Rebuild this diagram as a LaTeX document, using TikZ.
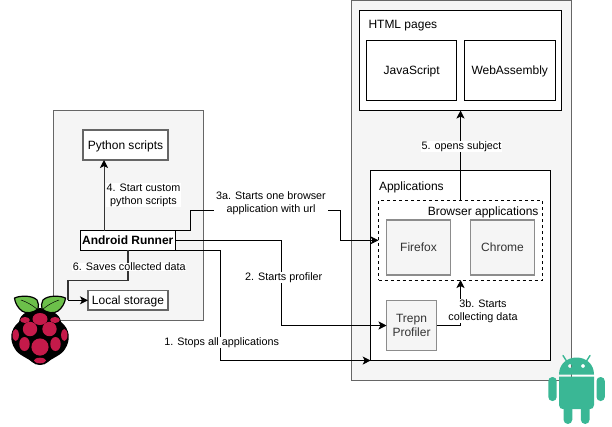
\documentclass[tikz,border=0pt]{standalone}
\usepackage{fontspec}
\setmainfont{Liberation Sans}
\usetikzlibrary{arrows.meta,calc}
\definecolor{panelfill}{HTML}{F5F5F5}
\definecolor{panelline}{HTML}{666666}
\definecolor{softline}{HTML}{8C8C8C}
\definecolor{softtext}{HTML}{333333}
\definecolor{droid}{HTML}{3AB795}
\definecolor{berry}{HTML}{C51A4A}
\definecolor{leafgreen}{HTML}{6CC04A}
\tikzset{
  x=1pt,y=-1pt,
  every node/.style={inner sep=0pt,outer sep=0pt,align=center,font=\fontsize{12}{14}\selectfont},
  oneline/.style={text height=8.6pt,text depth=0pt},
  panel/.style={draw=panelline,fill=panelfill,line width=1pt},
  whitebox/.style={draw=black,fill=white,line width=1pt},
  greybox/.style={draw=softline,fill=panelfill,line width=1.1pt,text=softtext},
  softbox/.style={draw=panelline,fill=white,line width=1.6pt},
  lab/.style={fill=white,font=\fontsize{10.8}{13}\selectfont,inner xsep=0.5pt,inner ysep=0.5pt},
  conn/.style={draw=black,line width=0.9pt,-{Stealth[length=8pt,width=8pt,inset=2pt]}},
  plain/.style={draw=black,line width=0.9pt},
  softconn/.style={draw=softtext,line width=1.1pt},
  box/.style n args={4}{minimum width=#3-#1,minimum height=#4-#2,at={({(#1+#3)/2},{(#2+#4)/2})}},
}
\begin{document}
\begin{tikzpicture}
\useasboundingbox (0,0) rectangle (612,426);
% panels
\node[panel,box={53}{110.5}{203}{320}] (leftpanel) {};
\node[panel,box={351}{0.5}{571}{380}] (rightpanel) {};
% left nodes
\node[softbox,oneline,box={83}{130}{168}{160}] (python) {Python scripts};
\node[softbox,oneline,line width=1.2pt,box={88}{290.5}{168}{310}] (storage) {Local storage};
\node[whitebox,box={80.5}{230.5}{175}{250.3},font=\fontsize{12}{14}\selectfont\bfseries] (runner) {Android Runner};
% right nodes
\node[whitebox,box={359.5}{10.5}{561.5}{110.5}] (html) {};
\node[anchor=west] (htmllabel) at (368.5,26) {HTML pages};
\node[whitebox,oneline,box={366.7}{40.5}{456.7}{100.5}] (js) {JavaScript};
\node[whitebox,oneline,box={464.5}{40.5}{555}{100.5}] (wasm) {WebAssembly};
\node[whitebox,box={370.7}{170.5}{550.7}{360.5}] (apps) {};
\node[anchor=west] (appslabel) at (379,187) {Applications};
\node[draw=black,dashed,line width=0.9pt,fill=white,box={378.5}{200.7}{542.5}{280}] (browsers) {};
\node[anchor=east] (browserlabel) at (538.5,212.5) {Browser applications};
\node[greybox,box={386.5}{220}{450.5}{275}] (firefox) {Firefox};
\node[greybox,box={470.5}{220}{534.5}{275}] (chrome) {Chrome};
\node[greybox,box={386.5}{300.5}{436.5}{350.5}] (trepn) {Trepn\\Profiler};
% bend coordinates
\coordinate (a3) at (190.7,210.7);
\coordinate (b3) at (340.7,240.3);
\coordinate (c2) at (281.3,325.5);
\coordinate (c1) at (220.7,360.5);
\coordinate (c6) at (128,280.5);
\coordinate (d6) at (68,300.3);
\coordinate (e3) at (460.5,325.5);
% connectors
\draw[conn,draw=softtext,{Stealth[length=8pt,width=8pt,inset=2pt,color=black]}-] (python.south -| 104,0) -- (runner.north -| 104,0);
\draw[softconn] (runner.south -| c6) -- (c6) -- (c6 -| d6) -- (d6);
\draw[conn] (d6) -- (storage.west |- d6);
\draw[plain] (runner.north east) -- (runner.north east -| a3) -- (a3) -- (a3 -| b3);
\draw[conn] (a3 -| b3) -- (b3) -- (browsers.west |- b3);
\draw[conn] (runner.east |- 0,240.3) -- (c2 |- 0,240.3) -- (c2) -- (trepn.west |- c2);
\draw[conn] (runner.south east) -- (runner.south east -| c1) -- (c1) -- (apps.west |- c1);
\draw[conn] (trepn.east |- e3) -- (e3) -- (e3 |- browsers.south);
\draw[conn] (e3 |- browsers.north) -- (e3 |- html.south);
% labels
\node[lab] (l4) at (143.5,195) {4. Start custom\\python scripts};
\node[lab] (l6) at (129.3,267) {6. Saves collected data};
\node[lab,inner xsep=2pt] (l3a) at (271,203) {3a. Starts one browser\\application with url};
\node[lab] (l2) at (283.7,277.5) {2. Starts profiler};
\node[lab] (l1) at (221.7,342.5) {1. Stops all applications};
\node[lab] (l5) at (461.5,146.5) {5. opens subject};
\node[lab] (l3b) at (483,311) {3b. Starts\\collecting data};
% raspberry pi
\begin{scope}
  \fill[black] (40,308) .. controls (50,310) and (60,313) .. (61,322) .. controls (70,329) and (71,340) .. (65,349)
    .. controls (62,355) and (52,358) .. (48,362) .. controls (44,366) and (36,366) .. (32,362)
    .. controls (28,358) and (18,355) .. (15,349) .. controls (9,340) and (10,329) .. (19,322)
    .. controls (20,313) and (30,310) .. (40,308) -- cycle;
  \filldraw[fill=leafgreen,draw=black,line width=1.2pt,line join=round] (14.5,298) .. controls (20,295.5) and (32,295) .. (37,300) .. controls (38.5,303) and (39,306) .. (38,309) .. controls (33,313) and (26,314) .. (22,311) .. controls (18,308) and (15,303) .. (14.5,298) -- cycle;
  \filldraw[fill=leafgreen,draw=black,line width=1.2pt,line join=round] (65.5,298) .. controls (60,295.5) and (48,295) .. (43,300) .. controls (41.5,303) and (41,306) .. (42,309) .. controls (47,313) and (54,314) .. (58,311) .. controls (62,308) and (65,303) .. (65.5,298) -- cycle;
  \draw[black,line width=0.5pt] (21,300) .. controls (27,302) and (32,305) .. (37,309);
  \draw[black,line width=0.5pt] (59,300) .. controls (53,302) and (48,305) .. (43,309);
  \fill[berry] (40,319) ellipse [x radius=7.5,y radius=6];
  \fill[berry] (30,329) circle (7.2);
  \fill[berry] (49.5,329) circle (7.2);
  \fill[berry] (40,347) circle (8.6);
  \fill[berry] (24.5,344) ellipse [x radius=5.2,y radius=7];
  \fill[berry] (55.5,344) ellipse [x radius=5.2,y radius=7];
  \fill[berry] (15.7,335) ellipse [x radius=3.2,y radius=6];
  \fill[berry] (64.3,335) ellipse [x radius=3.2,y radius=6];
  \fill[berry] (40,360.5) ellipse [x radius=6,y radius=2.8];
  \fill[berry] (25,320) ellipse [x radius=4.8,y radius=3];
  \fill[berry] (55,320) ellipse [x radius=4.8,y radius=3];
\end{scope}
% android
\begin{scope}
  \draw[droid,line width=1.4pt,line cap=round] (566.5,361) -- (563,355.5);
  \draw[droid,line width=1.4pt,line cap=round] (586.5,361) -- (590,355.5);
  \fill[droid,even odd rule] (559,374.5) .. controls (559,364) and (567,357.5) .. (576.5,357.5) .. controls (586,357.5) and (594,364) .. (594,374.5) -- cycle
     (570,366) circle (2) (583,366) circle (2);
  \fill[droid] (559,376.5) -- (594,376.5) -- (594,405) .. controls (594,408) and (592,409) .. (590,409) -- (563,409) .. controls (561,409) and (559,408) .. (559,405) -- cycle;
  \fill[droid,rounded corners=4pt] (548.3,377) rectangle (556.7,401);
  \fill[droid,rounded corners=4pt] (596.5,377) rectangle (604.8,401);
  \fill[droid,rounded corners=4.4pt] (563.5,400) rectangle (572.3,424);
  \fill[droid,rounded corners=4.4pt] (580.8,400) rectangle (589.6,424);
\end{scope}
\end{tikzpicture}
\end{document}
